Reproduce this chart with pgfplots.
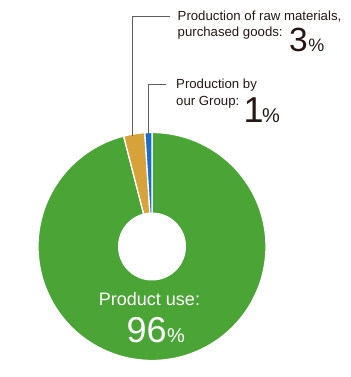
\documentclass[border=0pt]{standalone}
\usepackage{pgfplots}
\pgfplotsset{compat=1.18}
\usepackage{fontspec}
\setmainfont{Liberation Sans}
\definecolor{cgreen}{HTML}{4AA436}
\definecolor{corange}{HTML}{D8A23A}
\definecolor{cblue}{HTML}{1B6CC4}
\definecolor{cline}{HTML}{606060}
\definecolor{ctext}{HTML}{231815}
\begin{document}
\begin{tikzpicture}
\begin{axis}[
  scale only axis, width=351bp, height=377bp,
  xmin=0, xmax=351, ymin=0, ymax=377,
  axis line style={draw=none}, xtick=\empty, ytick=\empty, clip=false,
]
% shares: our Group 1%, raw materials 3%, product use 96% (3.6 deg per %)
% product use 96%
\addplot[fill=cgreen, draw=white, line width=1.3pt, domain=104.4:450, samples=180, variable=\t]
  ({152+114*cos(t)},{130.5+114*sin(t)}) -- (axis cs:152,130.5) -- cycle;
% raw materials 3%
\addplot[fill=corange, draw=white, line width=1.3pt, domain=93.6:104.4, samples=12, variable=\t]
  ({152+114*cos(t)},{130.5+114*sin(t)}) -- (axis cs:152,130.5) -- cycle;
% our Group 1%
\addplot[fill=cblue, draw=white, line width=1.3pt, domain=90:93.6, samples=6, variable=\t]
  ({152+114*cos(t)},{130.5+114*sin(t)}) -- (axis cs:152,130.5) -- cycle;
% hole
\addplot[fill=white, draw=none, domain=0:360, samples=120, variable=\t]
  ({152+34*cos(t)},{130.5+34*sin(t)}) -- cycle;
% leader lines
\addplot[cline, line width=0.8pt] coordinates {(132.7,241) (132.7,360.3) (170,360.3)};
\addplot[cline, line width=0.8pt] coordinates {(148,242) (148,293) (166,293)};
% labels
\node[anchor=base west, inner sep=0pt, text=ctext, font=\fontsize{13.2bp}{15bp}\selectfont] at (axis cs:177.5,356) {Production of raw materials,};
\node[anchor=base west, inner sep=0pt, text=ctext, font=\fontsize{13.2bp}{15bp}\selectfont] at (axis cs:177.5,340) {purchased goods:};
\node[anchor=base west, inner sep=0pt, text=ctext] at (axis cs:289,325) {\fontsize{33.5bp}{36bp}\selectfont 3\kern0.5bp\fontsize{18bp}{20bp}\selectfont\%};
\node[anchor=base west, inner sep=0pt, text=ctext, font=\fontsize{13.2bp}{15bp}\selectfont] at (axis cs:176,288) {Production by};
\node[anchor=base west, inner sep=0pt, text=ctext, font=\fontsize{13.2bp}{15bp}\selectfont] at (axis cs:176,271.5) {our Group:};
\node[anchor=base west, inner sep=0pt, text=ctext] at (axis cs:243.5,254) {\fontsize{36bp}{38bp}\selectfont 1\kern-1.5bp\fontsize{20bp}{22bp}\selectfont\%};
\node[anchor=base, inner sep=0pt, text=white, font=\fontsize{18bp}{20bp}\selectfont] at (axis cs:149.5,71) {Product use:};
\node[anchor=base west, inner sep=0pt, text=white] at (axis cs:126.5,34) {\fontsize{36bp}{38bp}\selectfont 96\kern0.5bp\fontsize{20bp}{22bp}\selectfont\%};
\end{axis}
\end{tikzpicture}
\end{document}
